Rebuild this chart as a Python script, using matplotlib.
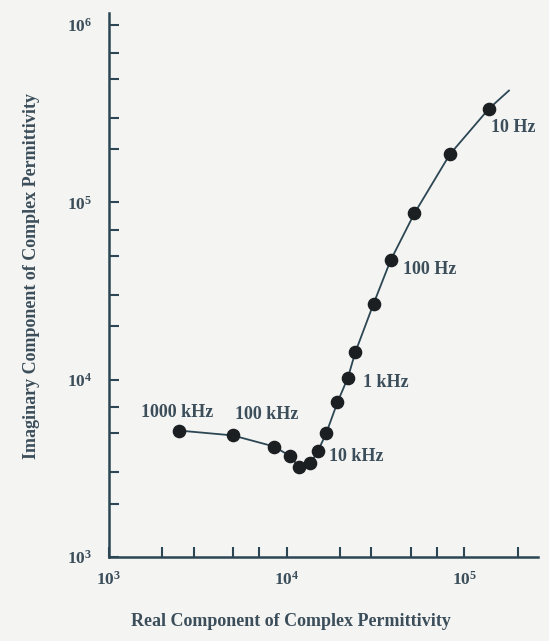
import numpy as np
import matplotlib
matplotlib.use("Agg")
import matplotlib.pyplot as plt
from matplotlib.ticker import FixedLocator, NullFormatter

# valores
real_part = [2480, 4970, 8530, 10470, 11770, 13630, 15000, 16720, 19360,
             22180, 24380, 30900, 38540, 52480, 83180, 138000]
imag_part = [5170, 4855, 4200, 3710, 3220, 3370, 3950, 4980, 7460,
             10290, 14260, 26800, 47100, 86700, 187000, 338000]
# la curva sigue un poco despues del ultimo punto
tail_real = [179000]
tail_imag = [428000]

freq_labels = ["1000 kHz", "100 kHz", "10 kHz", "1 kHz", "100 Hz", "10 Hz"]
label_x = [1507, 5115, 17380, 27040, 45500, 141300]
label_y = [6550, 6375, 3687, 9680, 41700, 266000]

plt.rcParams['font.family'] = ['Liberation Serif', 'DejaVu Serif']
plt.rcParams['font.weight'] = 'bold'
plt.rcParams['mathtext.fontset'] = 'custom'
plt.rcParams['mathtext.rm'] = 'Liberation Serif:bold'
plt.rcParams['mathtext.bf'] = 'Liberation Serif:bold'
plt.rcParams['mathtext.it'] = 'Liberation Serif:bold:italic'

bg = '#f4f4f3'
ink = '#2c4653'
txt = '#3b4e5a'

fig = plt.figure(figsize=(5.49, 6.41), dpi=100, facecolor=bg)
ax = fig.add_axes([0.1985, 0.131, 0.781, 0.849], facecolor=bg)

ax.plot(real_part + tail_real, imag_part + tail_imag, color=ink, lw=1.3, zorder=2)
ax.plot(real_part, imag_part, 'o', color='#1c1f22', markersize=8.8, zorder=3)

for lab, xx, yy in zip(freq_labels, label_x, label_y):
    ax.text(xx, yy, lab, fontsize=13, color=txt, fontweight='bold',
            ha='left', va='center')

ax.set_xscale('log')
ax.set_yscale('log')
ax.set_xlim(1e3, 2.6e5)
ax.set_ylim(1e3, 10 ** 6.07)

ax.xaxis.set_major_locator(FixedLocator([1e3, 1e4, 1e5]))
ax.yaxis.set_major_locator(FixedLocator([1e3, 1e4, 1e5, 1e6]))
minors = [m * 10 ** e for e in range(3, 6) for m in (2, 3, 5, 7)]
ax.xaxis.set_minor_locator(FixedLocator(minors))
ax.yaxis.set_minor_locator(FixedLocator(minors))
ax.xaxis.set_minor_formatter(NullFormatter())
ax.yaxis.set_minor_formatter(NullFormatter())
ax.set_xticklabels([r'$10^{3}$', r'$10^{4}$', r'$10^{5}$'])
ax.set_yticklabels([r'$10^{3}$', r'$10^{4}$', r'$10^{5}$', r'$10^{6}$'])

ax.tick_params(which='both', direction='in', length=7.5, width=1.5,
               color=ink, labelcolor=txt, labelsize=12.5)
ax.tick_params(axis='x', pad=10)
ax.tick_params(axis='y', pad=12)

for s in ['top', 'right']:
    ax.spines[s].set_visible(False)
for s in ['left', 'bottom']:
    ax.spines[s].set_color(ink)
    ax.spines[s].set_linewidth(1.8)

ax.set_xlabel("Real Component of Complex Permittivity", fontsize=13,
              color=txt, fontweight='bold')
ax.set_ylabel("Imaginary Component of Complex Permittivity", fontsize=13,
              color=txt, fontweight='bold')
ax.xaxis.set_label_coords(0.424, -0.103)
ax.yaxis.set_label_coords(-0.161, 0.5165)

plt.savefig("out.png", dpi=100, facecolor=bg)
